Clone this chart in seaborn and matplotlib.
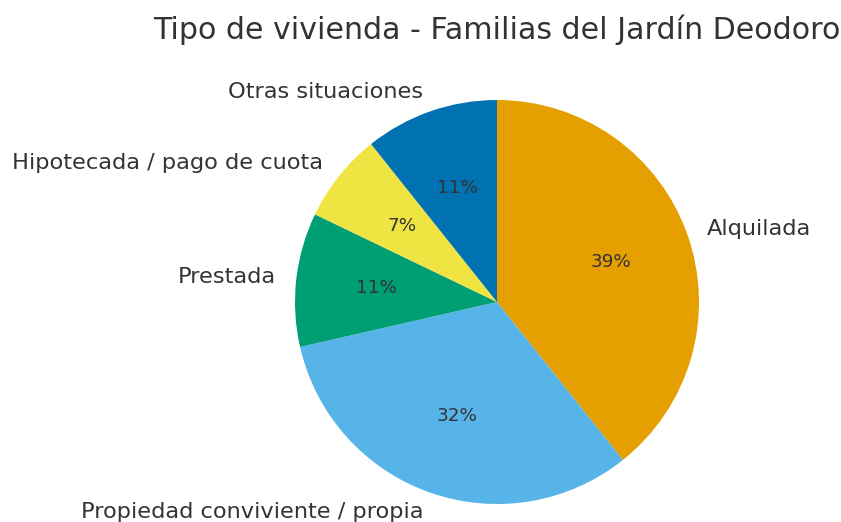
import matplotlib
matplotlib.use("Agg")
import matplotlib.pyplot as plt
import seaborn as sns

# Set visual style
sns.set_theme(style="white")
plt.rcParams['font.family'] = ['DejaVu Sans']

# Data: number of families per housing type
categorias = ["Alquilada", "Propiedad conviviente / propia", "Prestada",
              "Hipotecada / pago de cuota", "Otras situaciones"]
familias = [11, 9, 3, 2, 3]
colores = ["#E69F00", "#56B4E9", "#009E73", "#F0E442", "#0072B2"]
titulo = "Tipo de vivienda - Familias del Jardín Deodoro"

fig = plt.figure(figsize=(8.41, 5.22), dpi=100)
ax = fig.add_axes([244.5 / 841, -32.5 / 522, 505 / 841, 505 / 522])

wedges, texts, autotexts = ax.pie(
    familias,
    labels=categorias,
    colors=colores,
    autopct="%1.0f%%",
    startangle=90,
    counterclock=False,
    labeldistance=1.1,
    pctdistance=0.6,
    wedgeprops={"linewidth": 0},
    textprops={"fontsize": 16.2, "color": "#333333"},
)
for t in autotexts:
    t.set_fontsize(13.2)
    t.set_color("#333333")

ax.set_aspect("equal")
fig.text(0.591, 0.943, titulo, ha="center", va="center", fontsize=21.6, color="#333333")

fig.savefig("out.png", dpi=100)
plt.close(fig)
